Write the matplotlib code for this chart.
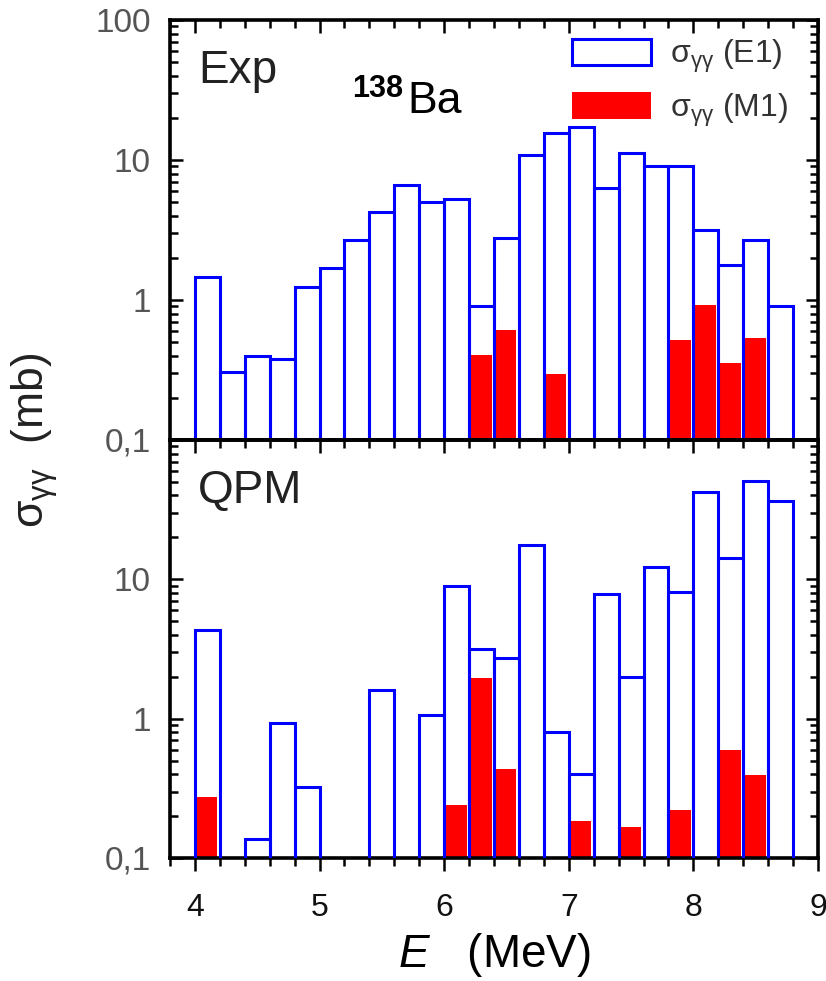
import matplotlib
matplotlib.use("Agg")
import matplotlib.pyplot as plt
import matplotlib.ticker as ticker
from matplotlib.patches import Patch

plt.rcParams["font.family"] = ["Liberation Sans", "DejaVu Sans"]
plt.rcParams["mathtext.fontset"] = "custom"
plt.rcParams["mathtext.rm"] = "Liberation Sans"
plt.rcParams["mathtext.it"] = "Liberation Sans:italic"
plt.rcParams["mathtext.bf"] = "Liberation Sans:bold"

# 138Ba photoabsorption strength in 200 keV bins (left edge of each bin, MeV)
exp_e1_energy = [4.0, 4.2, 4.4, 4.6, 4.8, 5.0, 5.2, 5.4, 5.6, 5.8, 6.0, 6.2,
                 6.4, 6.6, 6.8, 7.0, 7.2, 7.4, 7.6, 7.8, 8.0, 8.2, 8.4, 8.6]
exp_e1 = [1.47, 0.305, 0.40, 0.38, 1.24, 1.70, 2.67, 4.23, 6.60, 5.04, 5.24, 0.90,
          2.79, 10.8, 15.6, 17.2, 6.29, 11.3, 9.08, 9.08, 3.18, 1.78, 2.67, 0.90]
exp_m1_energy = [6.2, 6.4, 6.8, 7.8, 8.0, 8.2, 8.4]
exp_m1 = [0.408, 0.606, 0.298, 0.514, 0.915, 0.357, 0.531]

qpm_e1_energy = [4.0, 4.4, 4.6, 4.8, 5.4, 5.8, 6.0, 6.2, 6.4, 6.6, 6.8, 7.0,
                 7.2, 7.4, 7.6, 7.8, 8.0, 8.2, 8.4, 8.6]
qpm_e1 = [4.34, 0.136, 0.925, 0.322, 1.61, 1.06, 9.0, 3.15, 2.73, 17.7, 0.80, 0.40,
          7.89, 2.0, 12.3, 8.15, 42.0, 14.2, 50.4, 36.6]
qpm_m1_energy = [4.0, 6.0, 6.2, 6.4, 7.0, 7.4, 7.8, 8.2, 8.4]
qpm_m1 = [0.273, 0.239, 1.96, 0.434, 0.183, 0.166, 0.220, 0.595, 0.393]

BIN = 0.2
BLUE = "#0000FF"
RED = "#FF0000"
SIGMA = r"$\mathrm{\sigma}_{\mathrm{\gamma\gamma}}$"

fig = plt.figure(figsize=(8.26, 9.81), dpi=100)
W, H = 826.0, 981.0
ax_top = fig.add_axes([170 / W, 1 - 440 / H, 648 / W, 420 / H])
ax_bot = fig.add_axes([170 / W, 1 - 858 / H, 648 / W, 418 / H], sharex=ax_top)


def set_x_ticks(axis_obj):
    axis_obj.set_major_locator(ticker.MultipleLocator(1))
    axis_obj.set_minor_locator(ticker.MultipleLocator(0.2))


def draw_panel(ax, e1_x, e1_y, m1_x, m1_y, tag):
    ax.bar(m1_x, m1_y, width=0.18, align="edge", color=RED, linewidth=0,
           log=True, zorder=2)
    ax.bar(e1_x, e1_y, width=BIN, align="edge", fill=False, edgecolor=BLUE,
           linewidth=2.2, log=True, zorder=3)
    ax.set_ylim(0.1, 100)
    ax.set_xlim(3.8, 9.0)
    set_x_ticks(ax.xaxis)
    ax.set_yticks([0.1, 1, 10, 100])
    ax.yaxis.set_minor_locator(ticker.LogLocator(base=10, subs=range(2, 10), numticks=20))
    ax.yaxis.set_minor_formatter(ticker.NullFormatter())
    for s in ax.spines.values():
        s.set_linewidth(2.6)
    ax.tick_params(axis="y", which="both", direction="in", left=True, right=True,
                   width=1.8, color="black", labelsize=24, labelcolor="#555555",
                   pad=14)
    ax.tick_params(which="major", length=9)
    ax.tick_params(which="minor", length=5.5)
    ax.text(0.043, 0.85, tag, transform=ax.transAxes, fontsize=33,
            color="#222222", va="baseline", ha="left")


draw_panel(ax_top, exp_e1_energy, exp_e1, exp_m1_energy, exp_m1, "Exp")
draw_panel(ax_bot, qpm_e1_energy, qpm_e1, qpm_m1_energy, qpm_m1, "QPM")

ax_top.set_yticklabels(["0,1", "1", "10", "100"])
ax_top.tick_params(axis="x", which="both", direction="in", top=True,
                   bottom=False, labelbottom=False, width=1.8)

ax_bot.set_yticklabels(["0,1", "1", "10", ""])
ax_bot.tick_params(axis="x", which="both", direction="out", top=False,
                   bottom=True, width=1.8, labelsize=23, labelcolor="#111111",
                   pad=16)

# inward ticks along the top edge of the lower panel
sec = ax_bot.secondary_xaxis("top")
set_x_ticks(sec.xaxis)
sec.spines["top"].set_linewidth(2.6)
sec.tick_params(axis="x", which="both", direction="in", width=1.8,
                labeltop=False)
sec.tick_params(which="major", length=9)
sec.tick_params(which="minor", length=5.5)

ax_top.text(0.281, 0.817, "138", transform=ax_top.transAxes, fontsize=22,
            fontweight="bold", va="baseline", ha="left")
ax_top.text(0.366, 0.779, "Ba", transform=ax_top.transAxes, fontsize=32,
            va="baseline", ha="left")

handles = [Patch(facecolor="white", edgecolor=BLUE, linewidth=2.2),
           Patch(facecolor=RED, edgecolor=RED, linewidth=0)]
labels = [SIGMA + " (E1)", SIGMA + " (M1)"]
leg = ax_top.legend(handles, labels, loc="upper right",
                    bbox_to_anchor=(0.988, 1.01), frameon=False, fontsize=23,
                    handlelength=2.45, handleheight=0.9, handletextpad=0.6,
                    labelspacing=0.5, borderaxespad=0.3)
for txt in leg.get_texts():
    txt.set_color("#333333")

ax_bot.set_xlabel(r"$E$   (MeV)", fontsize=33, labelpad=6)
fig.text(35 / W, 1 - 440 / H, SIGMA + "  (mb)", rotation=90,
         fontsize=32, ha="center", va="center", color="#222222")

fig.savefig("out.png", dpi=100)
plt.close(fig)
